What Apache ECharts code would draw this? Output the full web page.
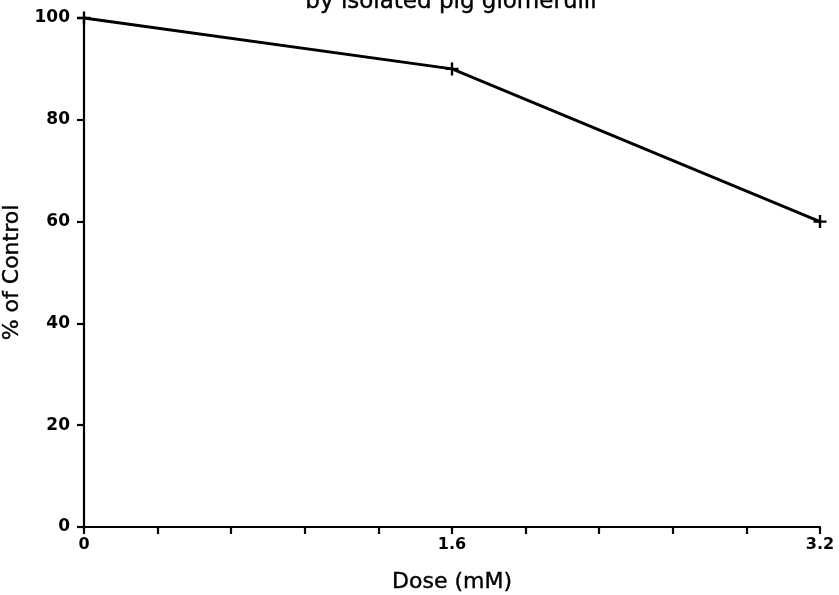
<!DOCTYPE html>
<html>
<head>
<meta charset="utf-8">
<script src="https://cdn.jsdelivr.net/npm/echarts@6/dist/echarts.min.js"></script>
<style>
  html, body { margin: 0; padding: 0; background: #fff; }
  #chart { width: 839px; height: 595px; }
</style>
</head>
<body>
<div id="chart"></div>
<script>
// Dose (mM) against response as % of control
const doses = [0, 1.6, 3.2];
const percentOfControl = [100, 90, 60];
const xLabelValues = [0, 1.6, 3.2];
const yTicks = [0, 20, 40, 60, 80, 100];

const FONT = 'DejaVu Sans';
const plus = 'path://M-1.1,-6H1.1V-1.1H6V1.1H1.1V6H-1.1V1.1H-6V-1.1H-1.1Z';

const chart = echarts.init(document.getElementById('chart'), null, { renderer: 'canvas' });
chart.setOption({
  backgroundColor: '#ffffff',
  animation: false,
  title: {
    text: 'by isolated pig glomerulii',
    left: 446,
    top: -14,
    textAlign: 'center',
    textStyle: { fontFamily: FONT, fontSize: 23, fontWeight: 'normal', color: '#000', textBorderColor: '#000', textBorderWidth: 0.4 }
  },
  grid: { left: 84, right: 19, top: 18, bottom: 68, containLabel: false, outerBoundsMode: 'none' },
  xAxis: {
    type: 'value',
    min: 0,
    max: 3.2,
    interval: 1.6,
    name: 'Dose (mM)',
    nameLocation: 'middle',
    nameGap: 44,
    nameTextStyle: { fontFamily: FONT, fontSize: 22, color: '#000', textBorderColor: '#000', textBorderWidth: 0.4 },
    axisLine: { show: true, onZero: false, lineStyle: { color: '#000', width: 2.2 } },
    axisTick: { show: true, inside: false, length: 7, lineStyle: { color: '#000', width: 2.2 } },
    minorTick: { show: true, splitNumber: 5, length: 7, lineStyle: { color: '#000', width: 2.2 } },
    splitLine: { show: false },
    minorSplitLine: { show: false },
    axisLabel: {
      margin: 10,
      fontFamily: FONT, fontSize: 16, fontWeight: 'bold', color: '#000',
      formatter: v => {
        const hit = xLabelValues.find(t => Math.abs(t - v) < 1e-6);
        return hit === undefined ? '' : String(hit);
      }
    }
  },
  yAxis: {
    type: 'value',
    min: 0,
    max: 100,
    interval: 20,
    name: '% of Control',
    nameLocation: 'middle',
    nameGap: 53,
    nameTextStyle: { fontFamily: FONT, fontSize: 22, color: '#000', textBorderColor: '#000', textBorderWidth: 0.4 },
    axisLine: { show: true, lineStyle: { color: '#000', width: 2.2 } },
    axisTick: { show: true, inside: false, length: 7, lineStyle: { color: '#000', width: 2.2 } },
    splitLine: { show: false },
    axisLabel: {
      margin: 14,
      fontFamily: FONT, fontSize: 17, fontWeight: 'bold', color: '#000',
      formatter: v => (yTicks.includes(v) ? String(v) : '')
    }
  },
  series: [{
    type: 'line',
    data: doses.map((d, i) => [d, percentOfControl[i]]),
    symbol: plus,
    symbolSize: 13,
    showSymbol: true,
    itemStyle: { color: '#000', borderWidth: 0 },
    lineStyle: { color: '#000', width: 2.8 },
    clip: false
  }]
});
</script>
</body>
</html>
